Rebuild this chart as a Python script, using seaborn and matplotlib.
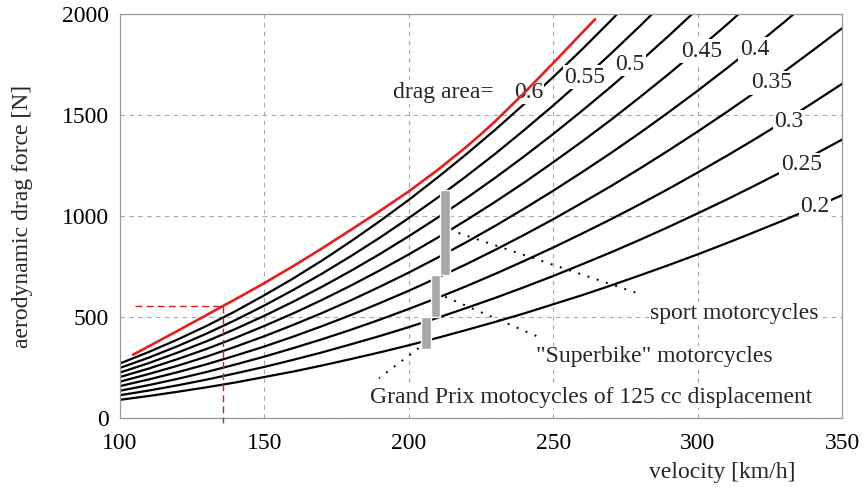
import numpy as np
import pandas as pd
import seaborn as sns
import matplotlib.pyplot as plt

# --- DATA ---
velocity = [100, 110, 120, 130, 140, 150, 160, 170, 180, 190, 200, 210, 220,
            230, 240, 250, 260, 270, 280, 290, 300, 310, 320, 330, 340, 350]

drag_areas = [0.2, 0.25, 0.3, 0.35, 0.4, 0.45, 0.5, 0.55, 0.6]
force_020 = [90, 109, 130, 152, 176, 203, 230, 260, 292, 325, 360, 397, 436,
             476, 518, 563, 608, 656, 706, 757, 810, 865, 922, 980, 1040, 1103]
force_025 = [113, 136, 162, 190, 221, 253, 288, 325, 365, 406, 450, 496, 545,
             595, 648, 703, 761, 820, 882, 946, 1013, 1081, 1152, 1225, 1301, 1378]
force_030 = [135, 163, 194, 228, 265, 304, 346, 390, 437, 487, 540, 595, 653,
             714, 778, 844, 913, 984, 1058, 1135, 1215, 1297, 1382, 1470, 1561, 1654]
force_035 = [158, 191, 227, 266, 309, 354, 403, 455, 510, 569, 630, 695, 762,
             833, 907, 984, 1065, 1148, 1235, 1325, 1418, 1514, 1613, 1715, 1821, 1929]
force_040 = [180, 218, 259, 304, 353, 405, 461, 520, 583, 650, 720, 794, 871,
             952, 1037, 1125, 1217, 1312, 1411, 1514, 1620, 1730, 1843, 1960, 2081, 2205]
force_045 = [203, 245, 292, 342, 397, 456, 518, 585, 656, 731, 810, 893, 980,
             1071, 1166, 1266, 1369, 1476, 1588, 1703, 1823, 1946, 2074]
force_050 = [225, 272, 324, 380, 441, 506, 576, 650, 729, 812, 900, 992, 1089,
             1190, 1296, 1406, 1521, 1640, 1764, 1892, 2025]
force_055 = [248, 299, 356, 418, 485, 557, 634, 715, 802, 893, 990, 1091, 1198,
             1309, 1426, 1547, 1673, 1804, 1940, 2081]
force_060 = [270, 327, 389, 456, 529, 608, 691, 780, 875, 975, 1080, 1191, 1307,
             1428, 1555, 1688, 1825, 1968, 2117]

# red curve
red_velocity = [104.5, 110, 120, 130, 135.5, 140, 150, 160, 170, 180, 190,
                200, 210, 220, 225, 230, 240, 250, 260, 264.5]
red_force = [313, 355, 432, 510, 553, 588, 668, 752, 840, 932, 1025,
             1122, 1228, 1343, 1405, 1470, 1610, 1757, 1907, 1974]

# curve labels
label_text = ["0.2", "0.25", "0.3", "0.35", "0.4", "0.45", "0.5", "0.55", "0.6"]
label_v = [340.7, 335.9, 331.7, 325.5, 319.7, 301.4, 276.6, 261.0, 241.4]
label_f = [1046, 1254, 1467, 1660, 1826, 1816, 1751, 1687, 1612]

# gray bars (motorcycle classes)
bar_v = [206.0, 209.2, 212.6]
bar_low = [344, 501, 708]
bar_high = [501, 708, 1129]

# annotations: text, text position, leader line start/end
note_text = ["Grand Prix motocycles of 125 cc displacement",
             "\"Superbike\" motorcycles",
             "sport motorcycles"]
note_v = [263, 285, 312.8]
note_f = [103, 303, 518]
lead_v0 = [203.4, 212.6, 217.2]
lead_f0 = [346, 600, 916]
lead_v1 = [189.7, 244.8, 281.0]
lead_f1 = [197, 402, 609]

# red dashed marker
mark_v = 135.5
mark_f = 552
mark_v_start = 105.2

forces = [force_020, force_025, force_030, force_035, force_040,
          force_045, force_050, force_055, force_060]

rows = []
for a, f in zip(drag_areas, forces):
    for v, val in zip(velocity, f):
        rows.append({"velocity": v, "force": val, "area": a})
df = pd.DataFrame(rows)

sns.set_theme(style="white")
plt.rcParams['font.family'] = ['Liberation Serif', 'DejaVu Serif']
plt.rcParams['font.size'] = 17

fig = plt.figure(figsize=(8.64, 4.94), dpi=100)
ax = fig.add_axes([120 / 864, 1 - 418 / 494, 722 / 864, 404 / 494])

sns.lineplot(data=df, x="velocity", y="force", hue="area",
             palette={a: "black" for a in drag_areas}, legend=False,
             linewidth=1.6, ax=ax, zorder=2)
sns.lineplot(x=red_velocity, y=red_force, color="#e3201c", linewidth=1.9,
             ax=ax, zorder=5)

ax.bar(bar_v, np.array(bar_high) - np.array(bar_low), bottom=bar_low,
       width=3.3, color="#a8a8a8", zorder=3)

for t, v, f in zip(label_text, label_v, label_f):
    ax.text(v, f, t, ha="center", va="center", fontsize=17, zorder=4,
            bbox=dict(facecolor="white", edgecolor="none", pad=1.0))
ax.text(211.9, 1612, "drag area=", ha="center", va="center", fontsize=17,
        zorder=4, bbox=dict(facecolor="white", edgecolor="none", pad=1.0))

for t, v, f in zip(note_text, note_v, note_f):
    ax.text(v, f, t, ha="center", va="center", fontsize=17, zorder=4,
            bbox=dict(facecolor="white", edgecolor="none", pad=0.5))
for v0, f0, v1, f1 in zip(lead_v0, lead_f0, lead_v1, lead_f1):
    ax.plot([v0, v1], [f0, f1], color="black", linewidth=1.4,
            linestyle=(0, (1, 4)), zorder=3)

ax.plot([mark_v_start, mark_v], [mark_f, mark_f], color="#d42020",
        linewidth=1.0, linestyle=(0, (5, 3)), zorder=4)
ax.plot([mark_v, mark_v], [mark_f, -25], color="#d42020",
        linewidth=1.0, linestyle=(0, (5, 3)), zorder=4, clip_on=False)

ax.set_xlim(100, 350)
ax.set_ylim(0, 2000)
ax.set_xticks([100, 150, 200, 250, 300, 350])
ax.set_yticks([0, 500, 1000, 1500, 2000])
ax.grid(True, color="#a8a8a8", linestyle=(0, (4, 4)), linewidth=0.8)
ax.set_axisbelow(True)
for s in ax.spines.values():
    s.set_color("#9a9a9a")
    s.set_linewidth(0.9)
ax.tick_params(axis="y", labelsize=17, colors="black", pad=8, length=0)
ax.tick_params(axis="x", labelsize=17, colors="black", pad=11, length=0)

ax.set_xlabel("velocity [km/h]", fontsize=17)
ax.set_ylabel("aerodynamic drag force [N]", fontsize=17)
ax.xaxis.set_label_coords(0.834, -0.11)
ax.yaxis.set_label_coords(-0.1205, 0.5)

fig.savefig("out.png", dpi=100)
